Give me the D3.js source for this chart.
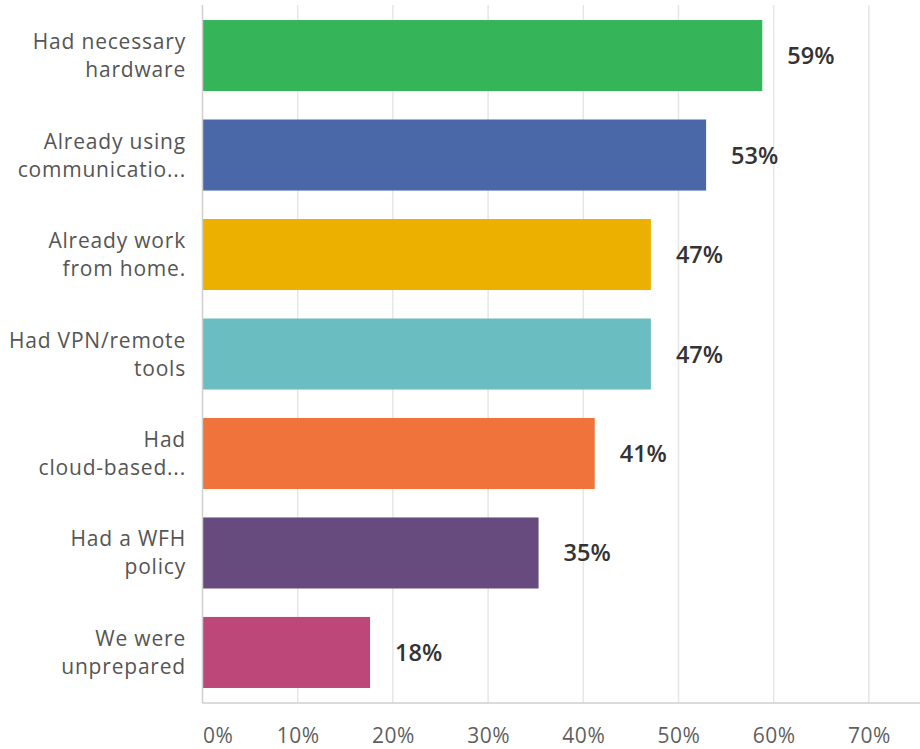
<!DOCTYPE html>
<html>
<head>
<meta charset="utf-8">
<script src="https://cdn.jsdelivr.net/npm/d3@7"></script>
<style>
  html, body { margin: 0; padding: 0; background: #fff; }
  svg { display: block; font-family: "Open Sans", "Noto Sans", sans-serif; }
</style>
</head>
<body>
<div id="chart"></div>
<script>
// categories, wrapped the way the survey tool shows them
var categories = [
  ["Had necessary", "hardware"],
  ["Already using", "communicatio..."],
  ["Already work", "from home."],
  ["Had VPN/remote", "tools"],
  ["Had", "cloud-based..."],
  ["Had a WFH", "policy"],
  ["We were", "unprepared"]
];
var values = [58.8, 52.9, 47.1, 47.1, 41.2, 35.3, 17.6];
var valueLabels = ["59%", "53%", "47%", "47%", "41%", "35%", "18%"];
var colors = ["#36b45a", "#4a67a8", "#ecb000", "#6abec2", "#ef733a", "#674a7e", "#bd4779"];
var ticks = [0, 10, 20, 30, 40, 50, 60, 70];

var W = 920, H = 749;
var margin = {top: 5, left: 202.5, bottom: 46};
var plotBottom = H - margin.bottom;

var svg = d3.select("#chart").append("svg")
    .attr("width", W)
    .attr("height", H);

var x = d3.scaleLinear()
    .domain([0, 70])
    .range([margin.left, margin.left + 666.4]);

var y = d3.scaleBand()
    .domain(d3.range(categories.length))
    .range([margin.top, plotBottom])
    .paddingInner(0.286)
    .paddingOuter(0.151);

// gridlines
svg.append("g")
    .attr("class", "grid")
  .selectAll("line")
  .data(ticks.slice(1))
  .enter().append("line")
    .attr("x1", function(d) { return x(d); })
    .attr("x2", function(d) { return x(d); })
    .attr("y1", margin.top)
    .attr("y2", plotBottom)
    .attr("stroke", "#e6e6e6")
    .attr("stroke-width", 1.5);

// bars
svg.append("g")
  .selectAll("rect")
  .data(values)
  .enter().append("rect")
    .attr("x", x(0))
    .attr("y", function(d, i) { return y(i); })
    .attr("width", function(d) { return x(d) - x(0); })
    .attr("height", y.bandwidth())
    .attr("fill", function(d, i) { return colors[i]; });

// axis lines
svg.append("line")
    .attr("x1", x(0)).attr("x2", x(0))
    .attr("y1", margin.top).attr("y2", plotBottom)
    .attr("stroke", "#cfcfcf").attr("stroke-width", 1.5);
svg.append("line")
    .attr("x1", x(0)).attr("x2", W)
    .attr("y1", plotBottom).attr("y2", plotBottom)
    .attr("stroke", "#cfcfcf").attr("stroke-width", 1.5);

// x tick labels
var xAxis = d3.axisBottom(x)
    .tickValues(ticks)
    .tickSize(0)
    .tickPadding(0)
    .tickFormat(function(d) { return d + "%"; });

var xg = svg.append("g")
    .attr("transform", "translate(0," + plotBottom + ")")
    .call(xAxis);
xg.select(".domain").remove();
xg.selectAll("text")
    .attr("dy", null)
    .attr("y", 40)
    .attr("font-size", "21px")
    .attr("letter-spacing", "0.5px")
    .attr("font-family", "\"Open Sans\", sans-serif")
    .attr("fill", "#5f5f5f")
    .attr("text-anchor", function(d) { return d === 0 ? "start" : "middle"; });

// category labels
var lineH = 28;
var cat = svg.append("g")
  .selectAll("text")
  .data(categories)
  .enter().append("text")
    .attr("text-anchor", "end")
    .attr("font-size", "21px")
    .attr("letter-spacing", "0.8px")
    .attr("fill", "#555");
cat.each(function(lines, i) {
  var cy = y(i) + y.bandwidth() / 2;
  var first = cy - (lines.length - 1) * lineH / 2 + 7.5;
  d3.select(this).selectAll("tspan")
    .data(lines)
    .enter().append("tspan")
      .attr("x", 186)
      .attr("y", function(d, j) { return first + j * lineH; })
      .text(function(d) { return d; });
});

// value labels
svg.append("g")
  .selectAll("text")
  .data(values)
  .enter().append("text")
    .attr("x", function(d) { return x(d) + 25; })
    .attr("y", function(d, i) { return y(i) + y.bandwidth() / 2 + 8.5; })
    .attr("font-size", "23.5px")
    .attr("font-weight", 600)
    .attr("fill", "#333")
    .text(function(d, i) { return valueLabels[i]; });
</script>
</body>
</html>
